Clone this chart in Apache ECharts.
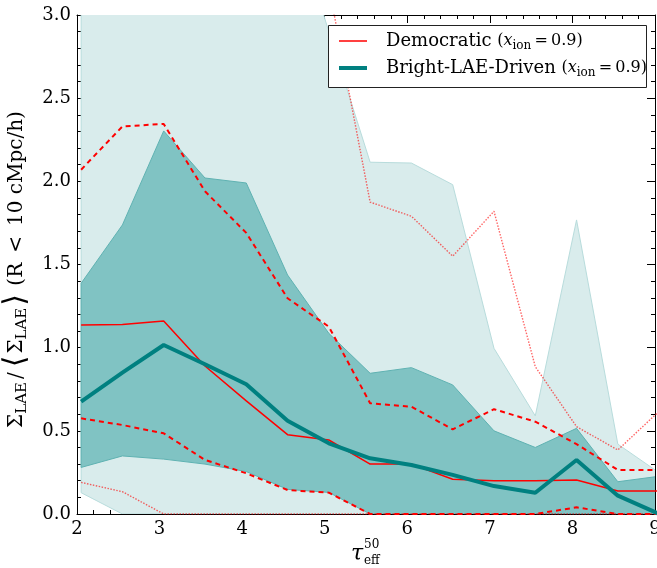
<!DOCTYPE html>
<html><head><meta charset="utf-8">
<script src="https://cdn.jsdelivr.net/npm/echarts@6/dist/echarts.min.js"></script>
<style>html,body{margin:0;padding:0;background:#fff}#c{width:657px;height:568px}</style>
</head><body><div id="c"></div>
<script>
// tau_eff^50 bin centres
const tau = [2.05, 2.55, 3.05, 3.55, 4.05, 4.55, 5.05, 5.55, 6.05, 6.55, 7.05, 7.55, 8.05, 8.55, 9.05];
// Democratic model (red)
const demMedian  = [1.136, 1.14, 1.16, 0.89, 0.68, 0.477, 0.445, 0.30, 0.30, 0.209, 0.20, 0.20, 0.204, 0.138, 0.138];
const demUpper68 = [2.07, 2.33, 2.345, 1.94, 1.69, 1.297, 1.126, 0.666, 0.645, 0.509, 0.63, 0.555, 0.42, 0.265, 0.265];
const demLower68 = [0.575, 0.535, 0.485, 0.325, 0.245, 0.144, 0.128, 0.0, 0.0, 0.0, 0.0, 0.0, 0.04, 0.0, 0.0];
const demUpper95 = [null, null, null, null, null, null, 3.17, 1.875, 1.79, 1.55, 1.82, 0.886, 0.525, 0.385, 0.618];
const demLower95 = [0.19, 0.134, 0.0, 0.0, 0.0, 0.0, 0.0, 0.0, 0.0, 0.0, 0.0, 0.0, 0.0, 0.0, 0.0];
// Bright-LAE-Driven model (teal)
const brtMedian  = [0.675, 0.85, 1.016, 0.90, 0.78, 0.56, 0.425, 0.335, 0.295, 0.235, 0.168, 0.128, 0.325, 0.11, 0.0];
const brtUpper68 = [1.387, 1.738, 2.303, 2.02, 1.99, 1.437, 1.086, 0.846, 0.88, 0.776, 0.50, 0.40, 0.515, 0.194, 0.227];
const brtLower68 = [0.28, 0.349, 0.33, 0.30, 0.255, 0.148, 0.13, 0.0, 0.0, 0.0, 0.0, 0.0, 0.0, 0.0, 0.0];
const brtUpper95 = [3.8, 3.8, 3.8, 3.8, 3.8, 3.7, 2.9, 2.115, 2.11, 1.98, 0.996, 0.59, 1.768, 0.42, 0.248];
const brtLower95 = [0.128, 0.0, 0.0, 0.0, 0.0, 0.0, 0.0, 0.0, 0.0, 0.0, 0.0, 0.0, 0.0, 0.0, 0.0];
// axis ticks
const xTicks = [2, 3, 4, 5, 6, 7, 8, 9];
const yTicks = [0.0, 0.5, 1.0, 1.5, 2.0, 2.5, 3.0];

const FONT = 'DejaVu Serif';
const chart = echarts.init(document.getElementById('c'), null, {renderer: 'canvas'});

function pts(arr) { return tau.map((x, i) => [x, arr[i] == null ? '-' : arr[i]]); }

function band(name, lo, hi, fill, edge, z) {
  return {
    type: 'custom', name: name, z: z, clip: true, silent: true,
    encode: {x: 0, y: [1, 2]},
    data: tau.map((x, i) => [x, lo[i], hi[i]]),
    renderItem: function (params, api) {
      if (params.dataIndex !== 0) return null;
      const up = tau.map((x, i) => api.coord([x, hi[i]]));
      const dn = tau.map((x, i) => api.coord([x, lo[i]]));
      const poly = up.concat(dn.slice().reverse());
      const cs = params.coordSys;
      return {
        type: 'group',
        clipPath: {type: 'rect', shape: {x: cs.x, y: cs.y, width: cs.width, height: cs.height}},
        children: [
          {type: 'polygon', shape: {points: poly}, style: {fill: fill, stroke: edge, lineWidth: 1}}
        ]
      };
    }
  };
}

function line(name, arr, color, width, type, z) {
  return {
    type: 'line', name: name, data: pts(arr), symbol: 'none', showSymbol: false,
    clip: true, z: z, silent: true,
    lineStyle: {color: color, width: width, type: type},
    itemStyle: {color: color}
  };
}

const richLegend = {
  n: {fontFamily: FONT, fontSize: 18, color: '#000', lineHeight: 22, padding: [0, 0, 0, 14]},
  m: {fontFamily: FONT, fontSize: 16, color: '#000', lineHeight: 22},
  i: {fontFamily: FONT, fontSize: 16, fontStyle: 'italic', color: '#000', lineHeight: 22},
  s: {fontFamily: FONT, fontSize: 12, color: '#000', lineHeight: 12, verticalAlign: 'bottom'}
};
const richY = {
  m: {fontFamily: FONT, fontSize: 20, color: '#000', lineHeight: 26},
  sl: {fontFamily: FONT, fontSize: 20, color: '#000', lineHeight: 26, padding: [0, 3, 0, 3]},
  s: {fontFamily: FONT, fontSize: 15, color: '#000', lineHeight: 14, verticalAlign: 'bottom'},
  b: {fontFamily: FONT, fontSize: 30, color: '#000', lineHeight: 26, padding: [0, 2, 0, 2]}
};

const legendBase = {
  orient: 'horizontal', padding: 0, itemWidth: 28, icon: 'rect', selectedMode: false, z: 60,
  textStyle: {fontFamily: FONT, fontSize: 18, color: '#000', rich: richLegend},
  formatter: function (n) { return '{n|' + n + '} {m|(}{i|x}{s|ion}{m|\u2009=\u20090.9)}'; }
};

const option = {
  animation: false,
  backgroundColor: '#fff',
  grid: {left: 77, right: 2, top: 15, bottom: 54, show: false, outerBoundsMode: 'none', containLabel: false},
  legend: [
    Object.assign({}, legendBase, {data: ['Democratic'], left: 339, top: 32, itemHeight: 1.5}),
    Object.assign({}, legendBase, {data: ['Bright-LAE-Driven'], left: 339, top: 59, itemHeight: 4})
  ],
  xAxis: [
    {type: 'value', min: 2, max: 9, interval: 1, position: 'bottom',
      axisLine: {show: true, onZero: false, lineStyle: {color: '#000', width: 1}},
      axisTick: {show: true, inside: true, length: 8, lineStyle: {color: '#000'}},
      minorTick: {show: true, splitNumber: 5, length: 4, lineStyle: {color: '#000'}},
      splitLine: {show: false},
      axisLabel: {fontFamily: FONT, fontSize: 18, color: '#000', margin: 6,
        formatter: v => xTicks.indexOf(v) >= 0 ? String(v) : ''}},
    {type: 'value', min: 2, max: 9, interval: 1, position: 'top',
      axisLine: {show: true, onZero: false, lineStyle: {color: '#000', width: 1}},
      axisTick: {show: true, inside: true, length: 8, lineStyle: {color: '#000'}},
      minorTick: {show: true, splitNumber: 5, length: 4, lineStyle: {color: '#000'}},
      splitLine: {show: false}, axisLabel: {show: false}}
  ],
  yAxis: [
    {type: 'value', min: 0, max: 3, interval: 0.5, position: 'left',
      axisLine: {show: true, onZero: false, lineStyle: {color: '#000', width: 1}},
      axisTick: {show: true, inside: true, length: 8, lineStyle: {color: '#000'}},
      minorTick: {show: true, splitNumber: 5, length: 4, lineStyle: {color: '#000'}},
      splitLine: {show: false},
      axisLabel: {fontFamily: FONT, fontSize: 18, color: '#000', margin: 6,
        formatter: v => yTicks.some(t => Math.abs(t - v) < 1e-9) ? v.toFixed(1) : ''},
      name: '{m|Σ}{s|LAE}{sl|/}{b|⟨}{m|Σ}{s|LAE}{b|⟩}{m| (R\u2002<\u200210 cMpc/h)}',
      nameLocation: 'middle', nameRotate: 90, nameGap: 44,
      nameTextStyle: {fontFamily: FONT, fontSize: 20, color: '#000', padding: [0, 10, 0, 0], rich: richY}},
    {type: 'value', min: 0, max: 3, interval: 0.5, position: 'right',
      axisLine: {show: true, onZero: false, lineStyle: {color: '#000', width: 1}},
      axisTick: {show: true, inside: true, length: 8, lineStyle: {color: '#000'}},
      minorTick: {show: true, splitNumber: 5, length: 4, lineStyle: {color: '#000'}},
      splitLine: {show: false}, axisLabel: {show: false}}
  ],
  graphic: [
    {type: 'rect', z: 50, shape: {x: 328.5, y: 25.5, width: 318, height: 62},
      style: {fill: '#fff', stroke: '#222', lineWidth: 1}},
    {type: 'text', z: 50, x: 357, y: 554,
      style: {text: 'τ', fontFamily: FONT, fontSize: 22, fontStyle: 'italic', fill: '#000', align: 'center', verticalAlign: 'middle'}},
    {type: 'text', z: 50, x: 364, y: 545,
      style: {text: '50', fontFamily: FONT, fontSize: 12, fill: '#000', align: 'left', verticalAlign: 'middle'}},
    {type: 'text', z: 50, x: 364, y: 561,
      style: {text: 'eff', fontFamily: FONT, fontSize: 12, fill: '#000', align: 'left', verticalAlign: 'middle'}}
  ],
  series: [
    band('Bright-LAE-Driven 95%', brtLower95, brtUpper95, '#d9ecec', '#b8dcdc', 1),
    band('Bright-LAE-Driven 68%', brtLower68, brtUpper68, '#80c3c3', '#5fb2b2', 2),
    line('Democratic 95% upper', demUpper95, 'rgba(255,0,0,0.6)', 1.4, [1.5, 1.5], 5),
    line('Democratic 95% lower', demLower95, 'rgba(255,0,0,0.6)', 1.4, [1.5, 1.5], 5),
    line('Democratic 68% upper', demUpper68, '#ff0000', 2, [5, 4], 6),
    line('Democratic 68% lower', demLower68, '#ff0000', 2, [5, 4], 6),
    line('Democratic', demMedian, '#ff0000', 1.5, 'solid', 7),
    line('Bright-LAE-Driven', brtMedian, '#008080', 4, 'solid', 8)
  ]
};
chart.setOption(option);
</script>
</body></html>
